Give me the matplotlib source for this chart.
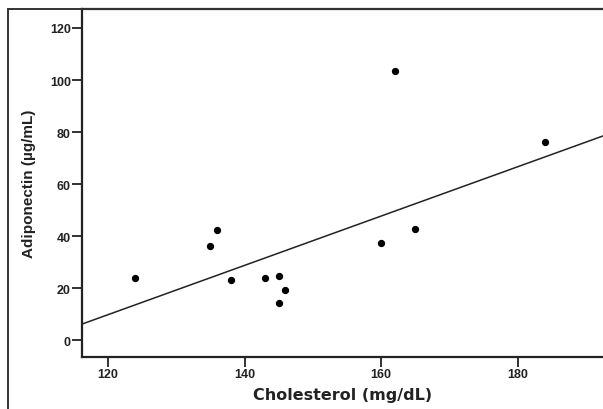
import matplotlib
matplotlib.use("Agg")
import matplotlib.pyplot as plt
from matplotlib.lines import Line2D

# values
cholesterol = [124, 135, 136, 138, 143, 145, 145, 146, 160, 165, 162, 184]
adiponectin = [23.8, 36.2, 42.3, 23.1, 23.8, 24.6, 14.2, 19.2, 37.3, 42.7, 103.5, 76.2]
fit_slope = 0.948
fit_intercept = -104.0
xticks = [120, 140, 160, 180]
yticks = [0, 20, 40, 60, 80, 100, 120]

plt.rcParams['font.family'] = ['Liberation Sans', 'DejaVu Sans']
plt.rcParams['font.weight'] = 'bold'

fig = plt.figure(figsize=(6.03, 4.10), dpi=100)
ax = fig.add_axes([82 / 603, 52 / 410, 1 - 82 / 603, 348 / 410])

ax.scatter(cholesterol, adiponectin, s=18, color='black', zorder=3)

xmin, xmax = 116.2, 192.5
ax.plot([xmin, xmax], [fit_intercept + fit_slope * xmin, fit_intercept + fit_slope * xmax],
        color='#222222', lw=1.1)

ax.set_xlim(xmin, xmax)
ax.set_ylim(-6.5, 127.3)
ax.set_xticks(xticks)
ax.set_yticks(yticks)
ax.tick_params(direction='out', length=7, width=1.3, labelsize=9, pad=1, colors='#222222')
for lab in ax.get_xticklabels() + ax.get_yticklabels():
    lab.set_fontweight('bold')

for side in ['left', 'bottom', 'top']:
    ax.spines[side].set_linewidth(1.6)
    ax.spines[side].set_color('#222222')
ax.spines['right'].set_visible(False)

ax.set_xlabel('Cholesterol (mg/dL)', fontsize=11.5, fontweight='bold', labelpad=5,
              family=['DejaVu Sans'], color='#222222')
ax.set_ylabel('Adiponectin (µg/mL)', fontsize=11, fontweight='bold', labelpad=10,
              color='#222222')

# outer frame of the original panel
fig.add_artist(Line2D([8 / 603, 8 / 603], [0, 1 - 10 / 410], transform=fig.transFigure,
                      color='#333333', lw=1.4))
fig.add_artist(Line2D([8 / 603, 1], [1 - 10 / 410, 1 - 10 / 410], transform=fig.transFigure,
                      color='#333333', lw=1.4))

fig.savefig('out.png', dpi=100)
